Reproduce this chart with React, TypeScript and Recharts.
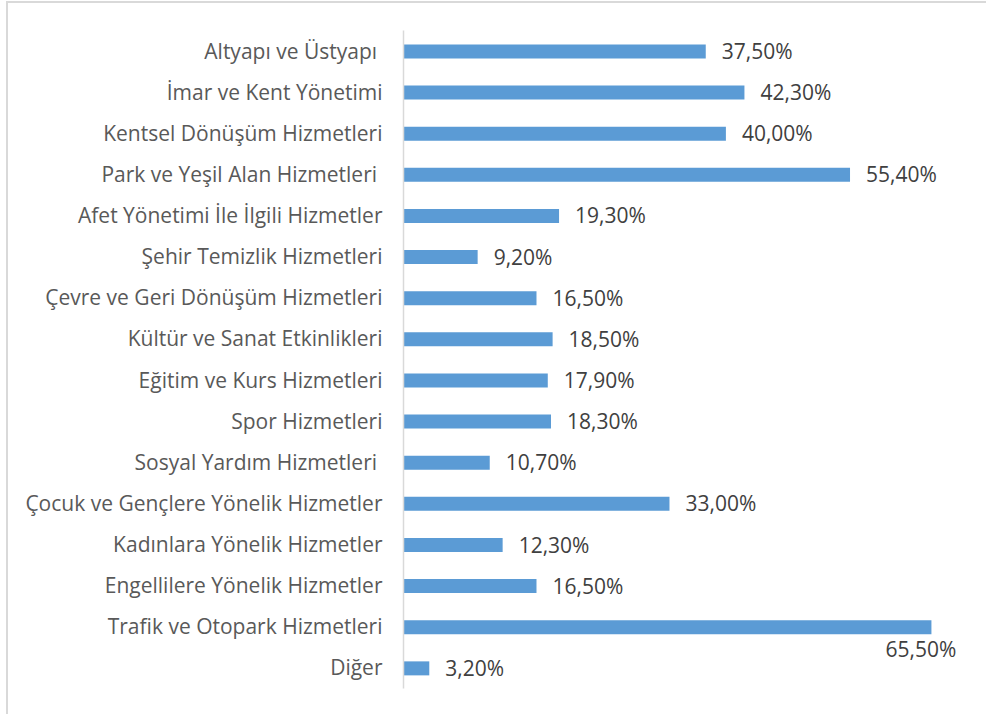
import { BarChart, Bar, XAxis, YAxis, LabelList } from 'recharts';

const categories = [
  'Altyapı ve Üstyapı ',
  'İmar ve Kent Yönetimi',
  'Kentsel Dönüşüm Hizmetleri',
  'Park ve Yeşil Alan Hizmetleri ',
  'Afet Yönetimi İle İlgili Hizmetler',
  'Şehir Temizlik Hizmetleri',
  'Çevre ve Geri Dönüşüm Hizmetleri',
  'Kültür ve Sanat Etkinlikleri',
  'Eğitim ve Kurs Hizmetleri',
  'Spor Hizmetleri',
  'Sosyal Yardım Hizmetleri ',
  'Çocuk ve Gençlere Yönelik Hizmetler',
  'Kadınlara Yönelik Hizmetler',
  'Engellilere Yönelik Hizmetler',
  'Trafik ve Otopark Hizmetleri',
  'Diğer',
];

const values = [37.5, 42.3, 40.0, 55.4, 19.3, 9.2, 16.5, 18.5, 17.9, 18.3, 10.7, 33.0, 12.3, 16.5, 65.5, 3.2];

const data = categories.map((name, i) => ({ name, value: values[i] }));
const maxValue = Math.max(...values);

const FONT = '"Open Sans", Lato, sans-serif';
const FONT_SIZE = 21;

const formatPct = (v: number) => v.toFixed(2).replace('.', ',') + '%';

// category names, right-aligned against the axis line
const CategoryTick = (props: any) => {
  const { x, y, payload } = props;
  return (
    <text
      x={x}
      y={y}
      dy="0.36em"
      textAnchor="end"
      fill="#595959"
      fontFamily={FONT}
      fontSize={FONT_SIZE}
      style={{ whiteSpace: 'pre' }}
    >
      {payload.value}
    </text>
  );
};

// value labels; the longest bar gets its label dropped below the bar end
const ValueLabel = (props: any) => {
  const { x, y, width, height, value } = props;
  const end = x + width;
  const cy = y + height / 2;
  if (value === maxValue) {
    return (
      <text x={end + 25} y={cy + 22.5} dy="0.36em" textAnchor="end" fill="#404040" fontFamily={FONT} fontSize={FONT_SIZE}>
        {formatPct(value)}
      </text>
    );
  }
  return (
    <text x={end + 16} y={cy} dy="0.36em" textAnchor="start" fill="#404040" fontFamily={FONT} fontSize={FONT_SIZE}>
      {formatPct(value)}
    </text>
  );
};

export default function App() {
  return (
    <div style={{ position: 'absolute', left: 0, top: 0, width: 986, height: 714, background: '#fff', overflow: 'hidden' }}>
      <div
        style={{
          position: 'absolute',
          left: 6,
          top: 1,
          right: 0,
          bottom: 0,
          borderLeft: '2px solid #D9D9D9',
          borderTop: '2px solid #D9D9D9',
        }}
      />
      <div style={{ position: 'absolute', left: 0, top: 0 }}>
        <BarChart
          width={986}
          height={714}
          data={data}
          layout="vertical"
          margin={{ top: 30.4, right: 18.3, bottom: 25.5, left: 0 }}
        >
          <XAxis type="number" domain={[0, 70]} hide />
          <YAxis
            type="category"
            dataKey="name"
            width={403.5}
            axisLine={{ stroke: '#D9D9D9', strokeWidth: 1.5 }}
            tickLine={false}
            tickSize={0}
            tickMargin={21}
            tick={<CategoryTick />}
            interval={0}
          />
          <Bar dataKey="value" fill="#5B9BD5" barSize={14} isAnimationActive={false}>
            <LabelList dataKey="value" content={<ValueLabel />} />
          </Bar>
        </BarChart>
      </div>
    </div>
  );
}
